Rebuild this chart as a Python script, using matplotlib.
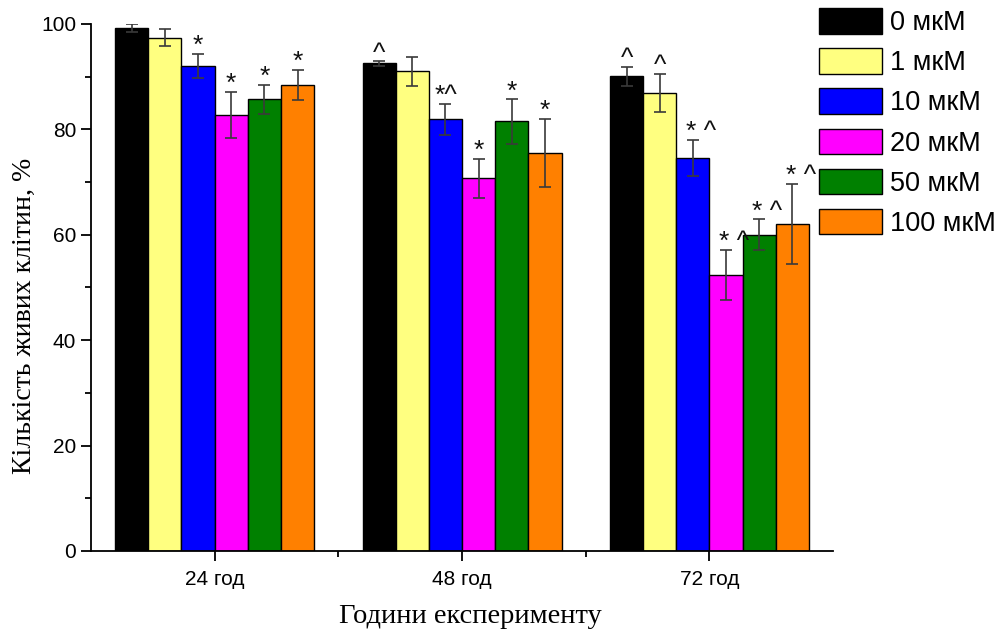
import matplotlib
matplotlib.use("Agg")
import matplotlib.pyplot as plt
from matplotlib.ticker import MultipleLocator, FixedLocator
import numpy as np

# data
groups = ["24 год", "48 год", "72 год"]
doses = ["0 мкМ", "1 мкМ", "10 мкМ", "20 мкМ", "50 мкМ", "100 мкМ"]
colors = ["#000000", "#FFFF80", "#0000FF", "#FF00FF", "#008000", "#FF8000"]

# rows = dose, columns = time point
means = [
    [99.2, 92.5, 90.1],
    [97.4, 91.0, 86.9],
    [92.0, 81.9, 74.6],
    [82.7, 70.7, 52.4],
    [85.7, 81.5, 60.0],
    [88.5, 75.5, 62.0],
]
errors = [
    [0.8, 0.4, 1.8],
    [1.6, 2.75, 3.6],
    [2.3, 3.0, 3.4],
    [4.4, 3.7, 4.8],
    [2.8, 4.2, 2.9],
    [2.85, 6.5, 7.6],
]
marks = [
    ["", "^", "^"],
    ["", "", "^"],
    ["*", "*^", "* ^"],
    ["*", "*", "* ^"],
    ["*", "*", "* ^"],
    ["*", "*", "* ^"],
]

sans = ["Liberation Sans", "DejaVu Sans"]
serif = ["Liberation Serif", "DejaVu Serif"]

fig = plt.figure(figsize=(10.05, 6.3), dpi=100)
ax = fig.add_axes([0.0905, 0.1254, 0.7385, 0.8366])

x = np.arange(1, len(groups) + 1)
width = 0.134
n = len(doses)

for i in range(n):
    pos = x + (i - (n - 1) / 2) * width
    ax.bar(pos, means[i], width, color=colors[i], edgecolor="black",
           linewidth=1.0, label=doses[i], zorder=2)
    ax.errorbar(pos, means[i], yerr=errors[i], fmt="none", ecolor="#3a3a3a",
                elinewidth=1.2, capsize=4, capthick=1.2, zorder=3)
    for j in range(len(groups)):
        txt = marks[i][j]
        if not txt:
            continue
        dx = 6 if txt == "* ^" else 0
        ax.annotate(txt, (pos[j], means[i][j] + errors[i][j]),
                    xytext=(dx, -3), textcoords="offset points",
                    ha="center", va="bottom", fontsize=19,
                    family=sans, color="#111111", zorder=4)

ax.set_xlim(0.5, 3.5)
ax.set_ylim(0, 100)
ax.set_xticks(x)
ax.set_xticklabels(groups, fontsize=15, family=sans)
ax.xaxis.set_minor_locator(FixedLocator([1.5, 2.5]))
ax.yaxis.set_major_locator(MultipleLocator(20))
ax.yaxis.set_minor_locator(MultipleLocator(10))
for lab in ax.get_yticklabels():
    lab.set_family(sans)
    lab.set_fontsize(15)
ax.tick_params(axis="both", which="major", direction="out", length=7, width=1.3)
ax.tick_params(axis="both", which="minor", direction="out", length=4, width=1.3)
ax.tick_params(axis="x", which="major", pad=6.5)
ax.spines["top"].set_visible(False)
ax.spines["right"].set_visible(False)
ax.spines["left"].set_linewidth(1.3)
ax.spines["bottom"].set_linewidth(1.3)

ax.set_xlabel("Години експерименту", fontsize=20.5, family=serif)
ax.set_ylabel("Кількість живих клітин, %", fontsize=20, family=serif)
ax.xaxis.set_label_coords(0.511, -0.10)
ax.yaxis.set_label_coords(-0.073, 0.446)

leg = fig.legend(loc="upper left", bbox_to_anchor=(0.815, 0.987), frameon=False,
                 prop={"family": sans, "size": 19.5}, handlelength=2.33,
                 handleheight=1.07, labelspacing=0.45, handletextpad=0.3,
                 borderpad=0, borderaxespad=0)

plt.savefig("out.png", dpi=100)
